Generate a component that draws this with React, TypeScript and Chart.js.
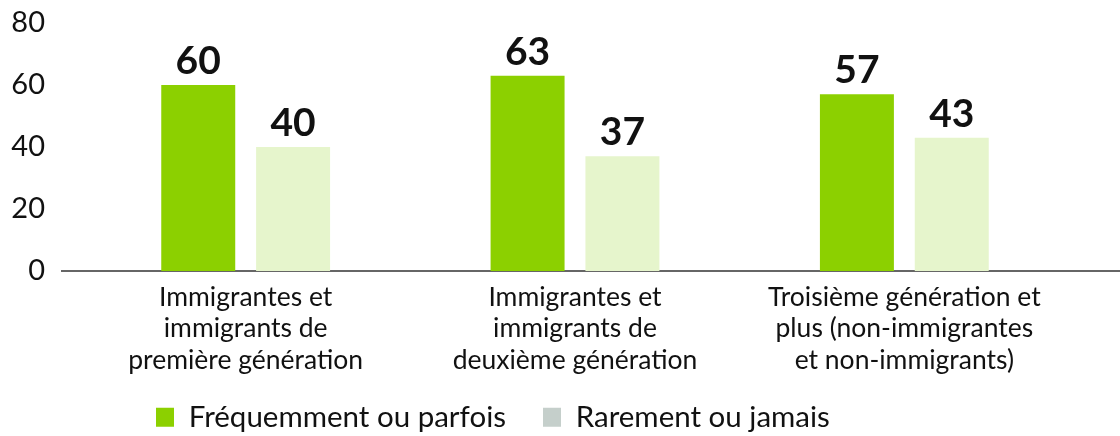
import React, { useEffect, useRef } from "react";
import { Chart, registerables } from "chart.js";

Chart.register(...registerables);

const categories: string[][] = [
  ["Immigrantes et", "immigrants de", "première génération"],
  ["Immigrantes et", "immigrants de", "deuxième génération"],
  ["Troisième génération et", "plus (non-immigrantes", "et non-immigrants)"],
];
const seriesNames = ["Fréquemment ou parfois", "Rarement ou jamais"];
const frequentValues = [60, 63, 57];
const rareValues = [40, 37, 43];
const yTicks = [0, 20, 40, 60, 80];

const FONT = "Lato, 'Noto Sans', sans-serif";
const GREEN = "#8cd000";
const LIGHT = "#e6f5cc";
const LEGEND_COLORS = ["#8cd000", "#c5cfcb"];

export default function App() {
  const ref = useRef<HTMLCanvasElement | null>(null);

  useEffect(() => {
    if (!ref.current) return;

    const valueLabels = {
      id: "valueLabels",
      afterDatasetsDraw(chart: any) {
        const ctx = chart.ctx;
        ctx.save();
        ctx.font = `bold 39px ${FONT}`;
        ctx.fillStyle = "#111";
        ctx.textAlign = "center";
        ctx.textBaseline = "alphabetic";
        chart.data.datasets.forEach((ds: any, i: number) => {
          const meta = chart.getDatasetMeta(i);
          meta.data.forEach((bar: any, j: number) => {
            ctx.fillText(String(ds.data[j]), bar.x, bar.y - 11);
          });
        });
        ctx.restore();
      },
    };

    const baseline = {
      id: "baseline",
      beforeDatasetsDraw(chart: any) {
        const ctx = chart.ctx;
        const y = chart.scales.y.getPixelForValue(0);
        ctx.save();
        ctx.strokeStyle = "#666";
        ctx.lineWidth = 2;
        ctx.beginPath();
        ctx.moveTo(61, y);
        ctx.lineTo(chart.width, y);
        ctx.stroke();
        ctx.restore();
      },
    };

    const adjustBoxes = {
      id: "adjustBoxes",
      beforeDraw(chart: any) {
        const lg = chart.legend;
        if (lg) {
          const w = lg.right - lg.left;
          lg.left = 119;
          lg.right = 119 + w;
        }
        const xs = chart.scales.x;
        if (xs) xs.bottom = chart.height;
      },
    };

    const chart = new Chart(ref.current, {
      type: "bar",
      data: {
        labels: categories,
        datasets: [
          {
            label: seriesNames[0],
            data: frequentValues,
            backgroundColor: GREEN,
            categoryPercentage: 0.576,
            barPercentage: 0.78,
          },
          {
            label: seriesNames[1],
            data: rareValues,
            backgroundColor: LIGHT,
            categoryPercentage: 0.576,
            barPercentage: 0.78,
          },
        ],
      },
      options: {
        responsive: false,
        animation: false,
        devicePixelRatio: 1,
        layout: { padding: { top: 23, right: 51, bottom: -6, left: 0 } },
        plugins: {
          tooltip: { enabled: false },
          legend: {
            position: "bottom",
            align: "start",
            labels: {
              boxWidth: 18,
              boxHeight: 19,
              padding: 37,
              color: "#111",
              font: { family: FONT, size: 29.5 },
              generateLabels: (chart: any) =>
                chart.data.datasets.map((ds: any, i: number) => ({
                  text: ds.label,
                  fillStyle: LEGEND_COLORS[i],
                  strokeStyle: LEGEND_COLORS[i],
                  lineWidth: 0,
                  hidden: false,
                  datasetIndex: i,
                  fontColor: "#111",
                })),
            },
          },
        },
        scales: {
          x: {
            grid: { display: false, drawTicks: false },
            border: { display: false },
            ticks: {
              color: "#111",
              padding: 11,
              maxRotation: 0,
              autoSkip: false,
              font: { family: FONT, size: 26.5, lineHeight: 1.18 },
            },
            afterFit: (scale: any) => {
              scale.height = 94.5;
            },
          },
          y: {
            min: 0,
            max: 80,
            grid: { display: false, drawTicks: false },
            border: { display: false },
            afterBuildTicks: (scale: any) => {
              scale.ticks = yTicks.map((v) => ({ value: v }));
            },
            ticks: {
              color: "#111",
              padding: 36,
              font: { family: FONT, size: 29 },
            },
            afterFit: (scale: any) => {
              scale.width = 81;
              scale.paddingTop = 0;
              scale.paddingBottom = 0;
            },
          },
        },
      },
      plugins: [valueLabels, baseline, adjustBoxes],
    });

    return () => chart.destroy();
  }, []);

  return (
    <div style={{ position: "absolute", left: 0, top: 0, width: 1120, height: 436, background: "#fff" }}>
      <canvas ref={ref} width={1120} height={436} />
    </div>
  );
}
